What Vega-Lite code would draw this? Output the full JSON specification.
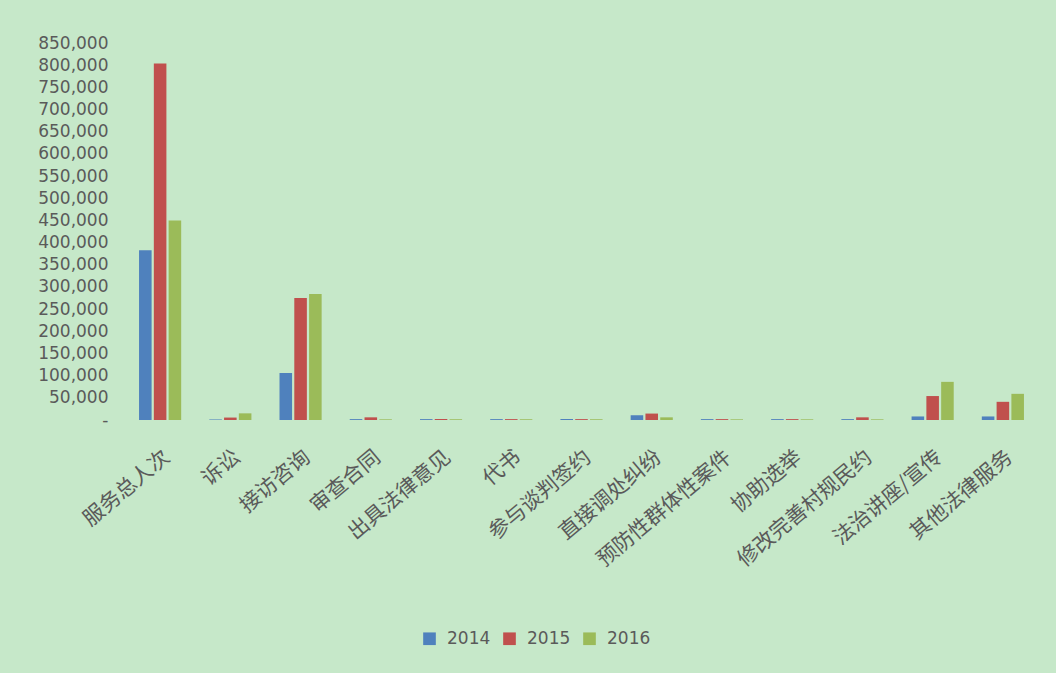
{
  "$schema": "https://vega.github.io/schema/vega-lite/v6.json",
  "autosize": {"type": "none"},
  "width": 913,
  "height": 377,
  "padding": {"left": 125, "top": 43, "right": 18, "bottom": 253},
  "background": "#C6E8C9",
  "config": {"view": {"stroke": null}},
  "data": {"values": [
    {"c": "服务总人次", "y": "2014", "v": 383000},
    {"c": "服务总人次", "y": "2015", "v": 804000},
    {"c": "服务总人次", "y": "2016", "v": 450000},
    {"c": "诉讼", "y": "2014", "v": 1200},
    {"c": "诉讼", "y": "2015", "v": 5500},
    {"c": "诉讼", "y": "2016", "v": 15000},
    {"c": "接访咨询", "y": "2014", "v": 106000},
    {"c": "接访咨询", "y": "2015", "v": 275000},
    {"c": "接访咨询", "y": "2016", "v": 284000},
    {"c": "审查合同", "y": "2014", "v": 2000},
    {"c": "审查合同", "y": "2015", "v": 6000},
    {"c": "审查合同", "y": "2016", "v": 1500},
    {"c": "出具法律意见", "y": "2014", "v": 2000},
    {"c": "出具法律意见", "y": "2015", "v": 2000},
    {"c": "出具法律意见", "y": "2016", "v": 1500},
    {"c": "代书", "y": "2014", "v": 2000},
    {"c": "代书", "y": "2015", "v": 2000},
    {"c": "代书", "y": "2016", "v": 1500},
    {"c": "参与谈判签约", "y": "2014", "v": 2000},
    {"c": "参与谈判签约", "y": "2015", "v": 2000},
    {"c": "参与谈判签约", "y": "2016", "v": 1500},
    {"c": "直接调处纠纷", "y": "2014", "v": 10500},
    {"c": "直接调处纠纷", "y": "2015", "v": 14500},
    {"c": "直接调处纠纷", "y": "2016", "v": 6000},
    {"c": "预防性群体性案件", "y": "2014", "v": 2000},
    {"c": "预防性群体性案件", "y": "2015", "v": 2000},
    {"c": "预防性群体性案件", "y": "2016", "v": 1500},
    {"c": "协助选举", "y": "2014", "v": 2000},
    {"c": "协助选举", "y": "2015", "v": 2000},
    {"c": "协助选举", "y": "2016", "v": 1500},
    {"c": "修改完善村规民约", "y": "2014", "v": 2000},
    {"c": "修改完善村规民约", "y": "2015", "v": 6000},
    {"c": "修改完善村规民约", "y": "2016", "v": 1500},
    {"c": "法治讲座/宣传", "y": "2014", "v": 8000},
    {"c": "法治讲座/宣传", "y": "2015", "v": 54000},
    {"c": "法治讲座/宣传", "y": "2016", "v": 86000},
    {"c": "其他法律服务", "y": "2014", "v": 8000},
    {"c": "其他法律服务", "y": "2015", "v": 41000},
    {"c": "其他法律服务", "y": "2016", "v": 59000}
  ]},
  "mark": {"type": "bar"},
  "encoding": {
    "x": {
      "field": "c", "type": "nominal", "sort": null, "title": null,
      "scale": {"paddingInner": 0.4, "paddingOuter": 0.2},
      "axis": {
        "domain": false, "ticks": false, "labelAngle": -40, "labelAlign": "right", "labelBaseline": "top",
        "labelFont": "Noto Sans CJK SC", "labelFontSize": 21, "labelColor": "#5a5a5a",
        "labelPadding": 26, "labelLimit": 400, "labelOverlap": false
      }
    },
    "xOffset": {"field": "y", "type": "nominal", "scale": {"paddingInner": 0.15}},
    "y": {
      "field": "v", "type": "quantitative", "title": null,
      "scale": {"domain": [0, 850000], "nice": false},
      "axis": {
        "domain": false, "ticks": false, "grid": false,
        "values": [0, 50000, 100000, 150000, 200000, 250000, 300000, 350000, 400000, 450000, 500000, 550000, 600000, 650000, 700000, 750000, 800000, 850000],
        "labelExpr": "datum.value == 0 ? '-' : format(datum.value, ',')",
        "labelFont": "DejaVu Sans", "labelFontSize": 17, "labelColor": "#5a5a5a",
        "labelPadding": 17, "labelOverlap": false, "labelFlush": false
      }
    },
    "color": {
      "field": "y", "type": "nominal", "title": null,
      "scale": {"domain": ["2014", "2015", "2016"], "range": ["#4F81BD", "#C0504D", "#9BBB59"]},
      "legend": {
        "orient": "none", "direction": "horizontal", "legendX": 296, "legendY": 587,
        "symbolType": "square", "symbolSize": 160, "symbolStrokeWidth": 0,
        "labelFont": "DejaVu Sans", "labelFontSize": 17, "labelColor": "#5a5a5a",
        "labelOffset": 9, "columnPadding": 10, "padding": 0
      }
    }
  }
}
